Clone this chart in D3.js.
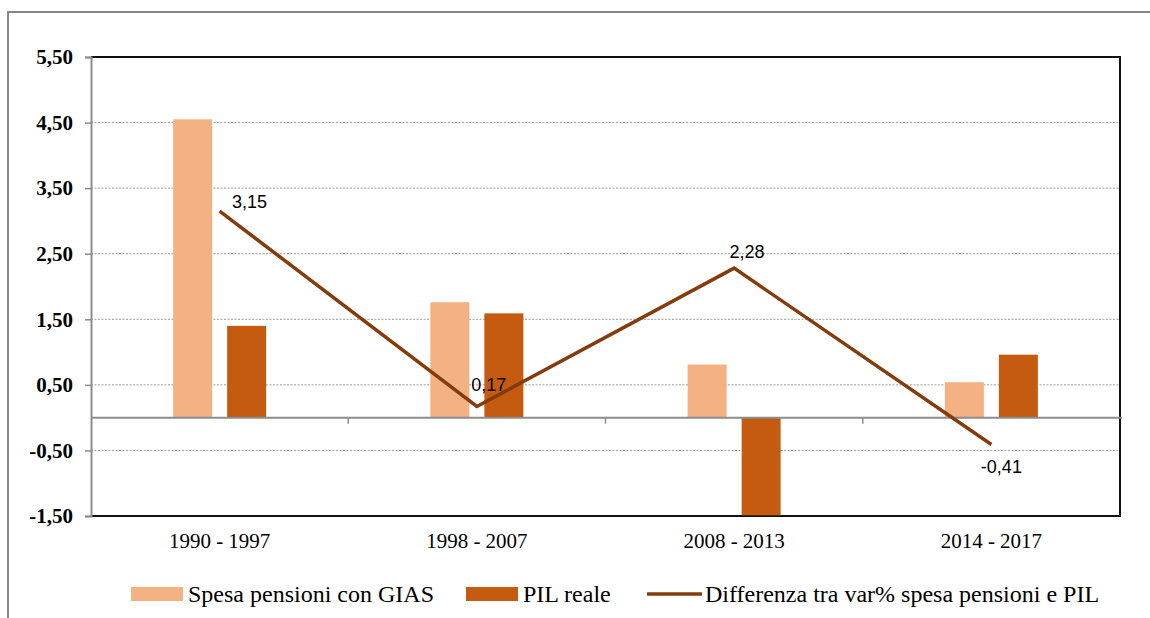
<!DOCTYPE html>
<html>
<head>
<meta charset="utf-8">
<script src="https://cdn.jsdelivr.net/npm/d3@7"></script>
<style>
  body { margin: 0; background: #fff; }
  svg { display: block; }
</style>
</head>
<body>
<div id="view"></div>
<script>
var width = 1150, height = 618;

// dati
var periodi = ["1990 - 1997", "1998 - 2007", "2008 - 2013", "2014 - 2017"];
var spesaPensioni = [4.55, 1.76, 0.81, 0.54];
var pilReale = [1.40, 1.59, -1.49, 0.96];
var differenza = [3.15, 0.17, 2.28, -0.41];
var yTicks = [-1.5, -0.5, 0.5, 1.5, 2.5, 3.5, 4.5, 5.5];
var nomiSerie = ["Spesa pensioni con GIAS", "PIL reale", "Differenza tra var% spesa pensioni e PIL"];

var colSpesa = "#f4b183", colPil = "#c55a11", colLinea = "#843c0c";

// area del grafico ("top" e' riservato in window)
var pLeft = 91, pRight = 1120, pTop = 57, pBottom = 516;

// formato italiano: virgola decimale, trattino come segno meno
var it = d3.formatLocale({ decimal: ",", thousands: ".", grouping: [3], currency: ["", " €"], minus: "-" });
var fmt = it.format(".2f");

var svg = d3.select("#view").append("svg")
	.attr("width", width)
	.attr("height", height);

// cornice esterna (tagliata)
svg.append("path")
	.attr("d", "M8,618 V12 H1150")
	.attr("fill", "none")
	.attr("stroke", "#878787")
	.attr("stroke-width", 2);

var x = d3.scaleBand().domain(periodi).range([pLeft, pRight]);
var x1 = d3.scaleBand().domain([0, 1]).range([0, 93]).paddingInner(15 / 54);
var y = d3.scaleLinear().domain([-1.5, 5.5]).range([pBottom, pTop]);

// griglia tratteggiata
svg.selectAll(".grid")
	.data(yTicks.filter(function(d) { return d > -1.5 && d < 5.5; }))
	.enter().append("line")
	.attr("x1", pLeft).attr("x2", pRight)
	.attr("y1", function(d) { return y(d); })
	.attr("y2", function(d) { return y(d); })
	.attr("stroke", "#9a9a9a")
	.attr("stroke-width", 1)
	.attr("stroke-dasharray", "2,1.5");

// bordo area del grafico
svg.append("path")
	.attr("d", "M" + pLeft + "," + pTop + " H" + pRight + " V" + pBottom + " H" + pLeft)
	.attr("fill", "none")
	.attr("stroke", "#111")
	.attr("stroke-width", 2);

svg.append("clipPath").attr("id", "plot")
	.append("rect")
	.attr("x", pLeft).attr("y", pTop)
	.attr("width", pRight - pLeft).attr("height", pBottom - pTop);

// barre
var barre = svg.append("g").attr("clip-path", "url(#plot)");
var serieBarre = [spesaPensioni, pilReale];
var coloriBarre = [colSpesa, colPil];
serieBarre.forEach(function(valori, s) {
	barre.selectAll(".b" + s)
		.data(valori).enter()
		.append("rect")
		.attr("x", function(d, i) { return x(periodi[i]) + x.bandwidth() / 2 - 46.5 + x1(s); })
		.attr("width", x1.bandwidth())
		.attr("y", function(d) { return y(Math.max(d, 0)); })
		.attr("height", function(d) { return Math.abs(y(d) - y(0)); })
		.attr("fill", coloriBarre[s]);
});

// asse zero
svg.append("line")
	.attr("x1", pLeft).attr("x2", pRight + 2)
	.attr("y1", y(0)).attr("y2", y(0))
	.attr("stroke", "#8c8c8c")
	.attr("stroke-width", 2);
svg.selectAll(".catTick")
	.data(periodi.slice(1)).enter()
	.append("line")
	.attr("x1", function(d) { return x(d); })
	.attr("x2", function(d) { return x(d); })
	.attr("y1", y(0)).attr("y2", y(0) + 6)
	.attr("stroke", "#8c8c8c")
	.attr("stroke-width", 1.5);

// asse y
var yAxis = svg.append("g")
	.attr("transform", "translate(" + pLeft + ",0)")
	.call(d3.axisLeft(y).tickValues(yTicks).tickFormat(fmt).tickSize(6).tickPadding(12));
yAxis.select(".domain").attr("stroke", "#8c8c8c").attr("stroke-width", 2);
yAxis.selectAll(".tick line").attr("stroke", "#8c8c8c").attr("stroke-width", 1.5);
yAxis.selectAll(".tick text")
	.attr("font-family", "'Liberation Serif', 'Times New Roman', serif")
	.attr("font-weight", "bold")
	.attr("font-size", 21)
	.attr("fill", "#000");

// etichette categorie
svg.selectAll(".cat")
	.data(periodi).enter()
	.append("text")
	.attr("x", function(d) { return x(d) + x.bandwidth() / 2; })
	.attr("y", 548)
	.attr("text-anchor", "middle")
	.attr("font-family", "'Liberation Serif', 'Times New Roman', serif")
	.attr("font-size", 21)
	.text(function(d) { return d; });

// linea differenza
var linea = d3.line()
	.x(function(d, i) { return x(periodi[i]) + x.bandwidth() / 2; })
	.y(function(d) { return y(d); });
svg.append("path")
	.datum(differenza)
	.attr("d", linea)
	.attr("fill", "none")
	.attr("stroke", colLinea)
	.attr("stroke-width", 3.5)
	.attr("stroke-linejoin", "miter");

// etichette dati (spostamento rispetto al punto)
var labelDx = [30, 12, 13, 10], labelDy = [-3, -15, -10, 28];
svg.selectAll(".lab")
	.data(differenza).enter()
	.append("text")
	.attr("x", function(d, i) { return x(periodi[i]) + x.bandwidth() / 2 + labelDx[i]; })
	.attr("y", function(d, i) { return y(d) + labelDy[i]; })
	.attr("text-anchor", "middle")
	.attr("font-family", "'Liberation Sans', Arial, sans-serif")
	.attr("font-size", 18)
	.attr("fill", "#000")
	.text(fmt);

// legenda
var leg = svg.append("g").attr("font-family", "'Liberation Serif', 'Times New Roman', serif").attr("font-size", 24);
var legX = [131, 466, 647];
nomiSerie.forEach(function(nome, i) {
	if (i < 2) {
		leg.append("rect")
			.attr("x", legX[i]).attr("y", 587)
			.attr("width", 52).attr("height", 14)
			.attr("fill", coloriBarre[i]);
	} else {
		leg.append("line")
			.attr("x1", legX[i]).attr("x2", legX[i] + 55)
			.attr("y1", 594).attr("y2", 594)
			.attr("stroke", colLinea)
			.attr("stroke-width", 3.5);
	}
	leg.append("text")
		.attr("x", legX[i] + (i < 2 ? 57 : 58))
		.attr("y", 602)
		.text(nome);
});
</script>
</body>
</html>
